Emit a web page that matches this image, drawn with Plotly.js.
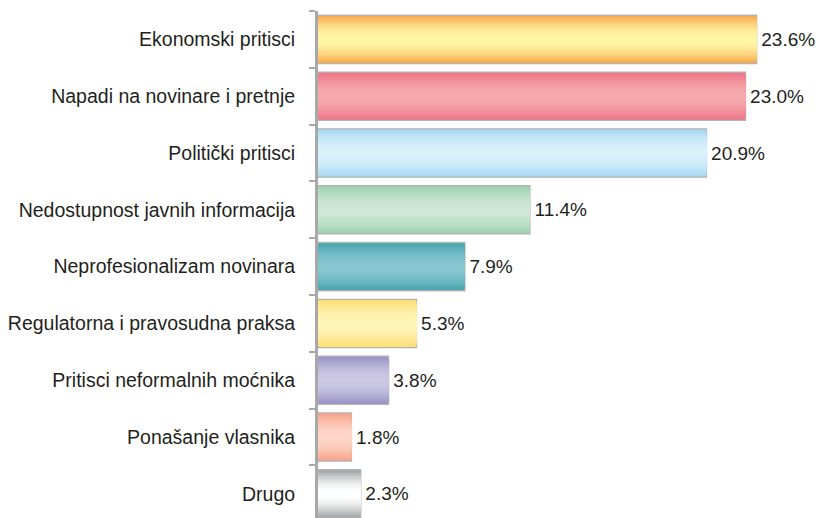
<!DOCTYPE html>
<html>
<head>
<meta charset="utf-8">
<script src="https://cdn.plot.ly/plotly-3.0.1.min.js"></script>
<style>html,body{margin:0;padding:0;background:#fff;}#chart{width:818px;height:518px;}</style>
</head>
<body>
<div id="chart"></div>
<script>
const categories = [
  "Ekonomski pritisci",
  "Napadi na novinare i pretnje",
  "Politički pritisci",
  "Nedostupnost javnih informacija",
  "Neprofesionalizam novinara",
  "Regulatorna i pravosudna praksa",
  "Pritisci neformalnih moćnika",
  "Ponašanje vlasnika",
  "Drugo"
];
const values = [23.6, 23.0, 20.9, 11.4, 7.9, 5.3, 3.8, 1.8, 2.3];
const edgeColors = ["#F9AA4E","#EF7487","#A9DAF4","#9DD3AC","#46A4AE","#FEDE74","#9A93C6","#F7A288","#A3A5A7"];
const midColors  = ["#FFF6A6","#F6AAAD","#DAF0FB","#CFE7D8","#86C6CF","#FFF4B8","#CCC8E4","#FDD6C8","#FFFFFF"];

function hex2rgb(h){return [parseInt(h.slice(1,3),16),parseInt(h.slice(3,5),16),parseInt(h.slice(5,7),16)];}
function mix(a,b,t){const A=hex2rgb(a),B=hex2rgb(b);return 'rgb('+A.map((v,i)=>Math.round(v+(B[i]-v)*t)).join(',')+')';}

const N = 16;
const fullWidth = 0.85;
const traces = [];
for (let k = 0; k < N; k++) {
  const t = k / (N - 1);
  const ease = Math.sin(t * Math.PI / 2);
  traces.push({
    type: 'bar',
    orientation: 'h',
    y: categories,
    x: values,
    width: fullWidth * (N - k) / N - (k === 0 ? 0 : 0.01),
    marker: {
      color: edgeColors.map((c, i) => mix(c, midColors[i], ease)),
      line: {color: k === 0 ? '#B4B4B4' : 'rgba(0,0,0,0)', width: k === 0 ? 1.3 : 0}
    },
    hoverinfo: 'skip',
    showlegend: false
  });
}
traces.push({
  type: 'bar',
  orientation: 'h',
  y: categories,
  x: values,
  width: fullWidth,
  marker: {color: 'rgba(0,0,0,0)', line: {width: 0}},
  text: values.map(v => '\u200A' + v.toFixed(1) + '%'),
  textposition: 'outside',
  cliponaxis: false,
  constraintext: 'none',
  textfont: {family: 'Liberation Sans, Arial, sans-serif', size: 19, color: '#231F20'},
  hoverinfo: 'skip',
  showlegend: false
});

const layout = {
  width: 818,
  height: 518,
  margin: {l: 318, r: 0, t: 11, b: 0, pad: 0},
  paper_bgcolor: '#ffffff',
  plot_bgcolor: '#ffffff',
  barmode: 'overlay',
  showlegend: false,
  xaxis: {range: [0, 26.9], visible: false, showgrid: false, zeroline: false, fixedrange: true},
  yaxis: {
    type: 'category',
    categoryorder: 'array',
    categoryarray: categories,
    range: [8.425, -0.5],
    showgrid: false,
    zeroline: false,
    showline: true,
    linecolor: '#A8A8A8',
    linewidth: 3,
    ticks: 'outside',
    tickson: 'boundaries',
    ticklen: 6,
    tickwidth: 2,
    tickcolor: '#A8A8A8',
    ticklabelstandoff: 16,
    tickfont: {family: 'Liberation Sans, Arial, sans-serif', size: 19.5, color: '#231F20'},
    fixedrange: true
  }
};

Plotly.newPlot('chart', traces, layout, {displayModeBar: false, staticPlot: true});
</script>
</body>
</html>
